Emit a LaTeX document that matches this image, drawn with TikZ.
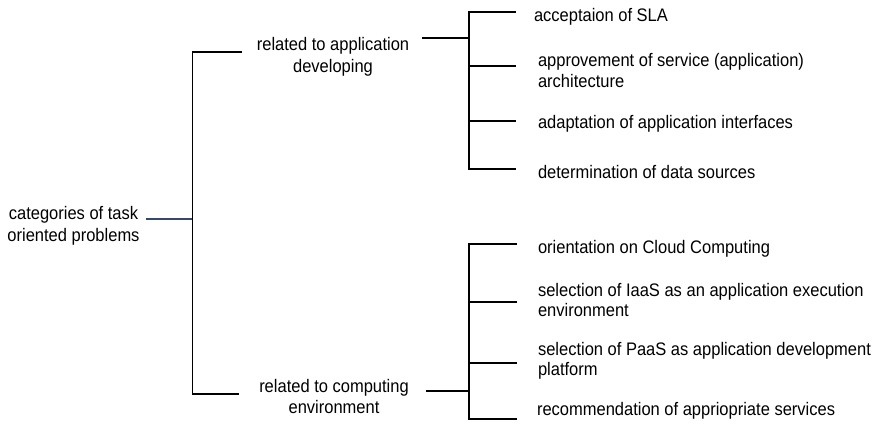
\documentclass[tikz,border=0pt]{standalone}
\usepackage{fontspec}
\setmainfont{Liberation Sans}
\usepackage{graphicx}
\definecolor{bl}{RGB}{52,72,112}
\newcommand\mytx[3]{\scalebox{1}[1.1]{\fontsize{16.5}{#2}\selectfont\begin{tabular}[t]{@{}#1@{}}#3\end{tabular}}}
\begin{document}
\begin{tikzpicture}[x=1pt,y=-1pt,
  ln/.style={line width=1.7pt,black},
  bln/.style={line width=1.3pt,bl},
  txt/.style={inner sep=0pt,outer sep=0pt}]
\useasboundingbox[fill=white] (0,0) rectangle (877,429);
% texts
\node[txt,anchor=base] (root) at (73.5,219) {\mytx{c}{20.5}{categories of task\\oriented problems}};
\node[txt,anchor=base] (m1) at (333,50) {\mytx{c}{20.7}{related to application\\developing}};
\node[txt,anchor=base] (m2) at (334,392) {\mytx{c}{19.6}{related to computing\\environment}};
\node[txt,anchor=base west] (a1) at (534,21) {\mytx{l}{18.6}{acceptaion of SLA}};
\node[txt,anchor=base west] (a2) at (538,66.7) {\mytx{l}{18.6}{approvement of service (application)\\architecture}};
\node[txt,anchor=base west] (a3) at (538,128) {\mytx{l}{18.6}{adaptation of application interfaces}};
\node[txt,anchor=base west] (a4) at (538,178) {\mytx{l}{18.6}{determination of data sources}};
\node[txt,anchor=base west] (b1) at (538,253) {\mytx{l}{18.6}{orientation on Cloud Computing}};
\node[txt,anchor=base west] (b2) at (538,296) {\mytx{l}{18.9}{selection of IaaS as an application execution\\environment}};
\node[txt,anchor=base west] (b3) at (538,355) {\mytx{l}{18.3}{selection of PaaS as application development\\platform}};
\node[txt,anchor=base west] (b4) at (537,415) {\mytx{l}{18.6}{recommendation of appriopriate services}};
% junction coordinates
\coordinate (r0) at (146,219);
\coordinate (j0) at (192.5,219);
\coordinate (ja) at (192.5,52);
\coordinate (jb) at (192.5,394);
\coordinate (ea) at (242,52);
\coordinate (eb) at (239,394);
\coordinate (pa) at (422,38);
\coordinate (ka) at (469,38);
\coordinate (pb) at (426,391);
\coordinate (kb) at (469,391);
\coordinate (ta) at (469,12);
\coordinate (ua) at (469,169);
\coordinate (tb) at (469,244);
\coordinate (ub) at (469,419);
% connectors
\draw[bln] (r0) -- (j0);
\draw[ln] (ea) -- (ja) -- (jb) -- (eb);
\draw[ln] (pa) -- (ka);
\draw[ln] (pb) -- (kb);
\draw[ln] (516,12) -- (ta) -- (ua) -- (516,169);
\draw[ln] (469,66) -- (516,66);
\draw[ln] (469,121) -- (516,121);
\draw[ln] (517,244) -- (tb) -- (ub) -- (517,419);
\draw[ln] (469,302) -- (517,302);
\draw[ln] (469,363) -- (517,363);
\end{tikzpicture}
\end{document}
